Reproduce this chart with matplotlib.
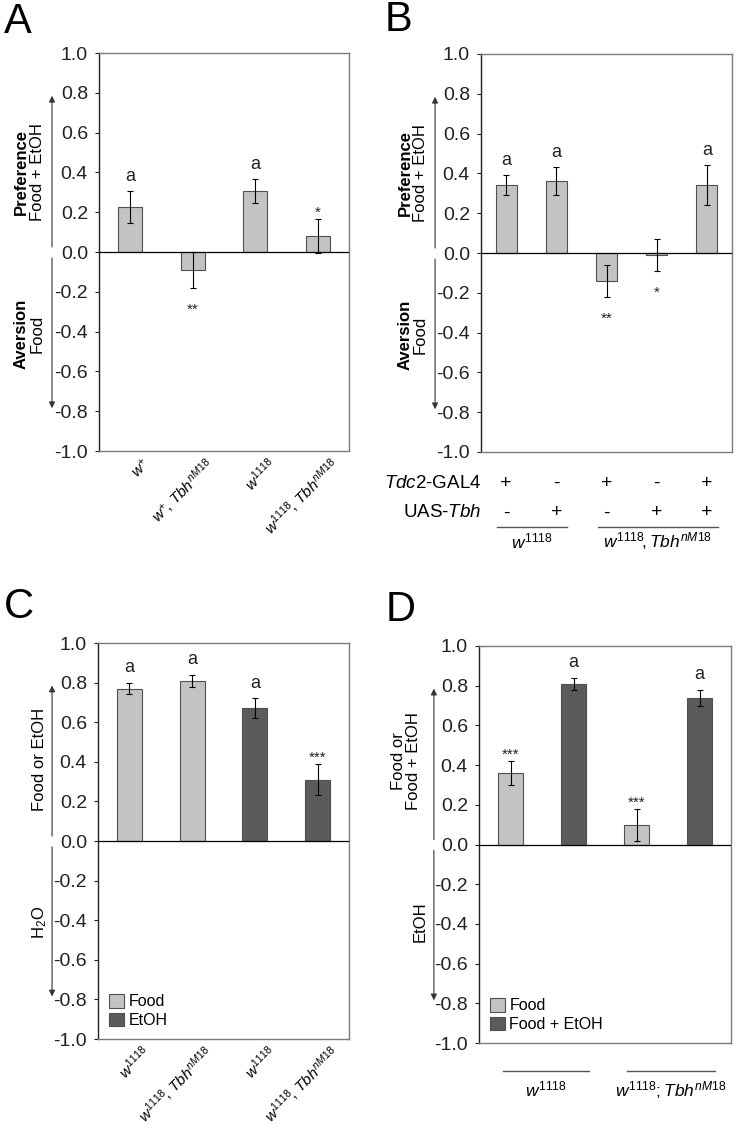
import numpy as np
import matplotlib
matplotlib.use("Agg")
import matplotlib.pyplot as plt
from matplotlib.lines import Line2D
from matplotlib.patches import Patch
from matplotlib.transforms import ScaledTranslation

plt.rcParams["font.family"] = ["Liberation Sans", "DejaVu Sans"]
plt.rcParams["mathtext.fontset"] = "custom"
plt.rcParams["mathtext.rm"] = "Liberation Sans"
plt.rcParams["mathtext.it"] = "Liberation Sans:italic"
plt.rcParams["mathtext.bf"] = "Liberation Sans:bold"
plt.rcParams["axes.unicode_minus"] = False

LIGHT = "#c3c3c3"
DARK = "#5b5b5b"

# ---- data ----
a_labels = [r"$\mathit{w}^{+}$",
            r"$\mathit{w}^{+}\!,\,\mathit{Tbh}^{\mathit{nM18}}$",
            r"$\mathit{w}^{\mathit{1118}}$",
            r"$\mathit{w}^{\mathit{1118}}\!,\,\mathit{Tbh}^{\mathit{nM18}}$"]
a_means = [0.225, -0.09, 0.305, 0.08]
a_err = [0.08, 0.09, 0.06, 0.085]
a_marks = ["a", "**", "a", "*"]

b_means = [0.34, 0.36, -0.14, -0.01, 0.34]
b_err = [0.05, 0.07, 0.08, 0.08, 0.10]
b_marks = ["a", "a", "**", "*", "a"]
b_tdc2 = ["+", "-", "+", "-", "+"]
b_uas = ["-", "+", "-", "+", "+"]
b_groups = [r"$\mathit{w}^{\mathit{1118}}$",
            r"$\mathit{w}^{\mathit{1118}}\!,\mathit{Tbh}^{\mathit{nM18}}$"]

c_labels = [r"$\mathit{w}^{\mathit{1118}}$",
            r"$\mathit{w}^{\mathit{1118}}\!,\,\mathit{Tbh}^{\mathit{nM18}}$",
            r"$\mathit{w}^{\mathit{1118}}$",
            r"$\mathit{w}^{\mathit{1118}}\!,\,\mathit{Tbh}^{\mathit{nM18}}$"]
c_means = [0.77, 0.81, 0.67, 0.31]
c_err = [0.03, 0.03, 0.05, 0.08]
c_marks = ["a", "a", "a", "***"]
c_kind = ["Food", "Food", "EtOH", "EtOH"]

d_means = [0.36, 0.81, 0.10, 0.74]
d_err = [0.06, 0.03, 0.08, 0.04]
d_marks = ["***", "a", "***", "a"]
d_kind = ["Food", "Food + EtOH", "Food", "Food + EtOH"]
d_groups = [r"$\mathit{w}^{\mathit{1118}}$",
            r"$\mathit{w}^{\mathit{1118}}\mathrm{;}\mathit{Tbh}^{\mathit{nM18}}$"]

W, H = 737, 1129
fig = plt.figure(figsize=(W / 100, H / 100), dpi=100)


def px_axes(left, right, top, bottom):
    return fig.add_axes([left / W, 1 - bottom / H, (right - left) / W, (bottom - top) / H])


def bars(ax, means, errs, colors, marks, width):
    x = np.arange(len(means))
    ax.bar(x, means, width, color=colors, edgecolor="#505050", linewidth=0.8, zorder=2)
    ax.errorbar(x, means, yerr=errs, fmt="none", ecolor="black", elinewidth=0.8,
                capsize=2, capthick=0.8, zorder=3)
    ax.axhline(0, color="black", lw=0.9, zorder=4)
    for xi, m, e, t in zip(x, means, errs, marks):
        star = t.startswith("*")
        fs = 11 if star else 13
        if m >= 0:
            y = m + e + (0.06 if star else 0.075)
        else:
            y = m - e - (0.08 if star else 0.075)
        if star:
            y -= 0.03
        ax.text(xi, y, t, ha="center", va="center", fontsize=fs, color="#222")
    ax.set_xlim(-0.5, len(means) - 0.5)
    ax.set_ylim(-1, 1)
    ticks = np.round(np.arange(-1, 1.01, 0.2), 1) + 0.0
    ax.set_yticks(ticks)
    ax.set_yticklabels([f"{t:.1f}" for t in ticks], fontsize=14)
    ax.tick_params(axis="y", direction="out", length=3, width=0.8, pad=5, colors="#222")
    ax.tick_params(axis="x", length=0)
    for s in ax.spines.values():
        s.set_color("#7a7a7a")
        s.set_linewidth(1.0)
    ax.spines["left"].set_color("#222")


def side(ax, xa, upper, lower):
    tr = ax.get_yaxis_transform()
    ap = dict(arrowstyle="-|>", color="#333", lw=0.8, mutation_scale=9,
              shrinkA=0, shrinkB=0)
    ax.annotate("", xy=(xa, 0.785), xytext=(xa, 0.025), xycoords=tr, textcoords=tr,
                arrowprops=ap, annotation_clip=False)
    ax.annotate("", xy=(xa, -0.785), xytext=(xa, -0.03), xycoords=tr, textcoords=tr,
                arrowprops=ap, annotation_clip=False)
    for x, y, txt, wt in upper + lower:
        ax.text(x, y, txt, transform=tr, rotation=90, ha="center", va="center",
                fontsize=12, fontweight=wt, clip_on=False, linespacing=1.0)


def rotated_labels(ax, labels):
    ax.set_xticks(np.arange(len(labels)))
    ax.set_xticklabels(labels, rotation=45, ha="right", rotation_mode="anchor",
                       fontsize=11)
    ax.tick_params(axis="x", pad=3)
    offset = ScaledTranslation(12 / 100, 0, fig.dpi_scale_trans)
    for lab in ax.get_xticklabels():
        lab.set_transform(lab.get_transform() + offset)


def legend(ax, names):
    ax.legend(handles=[Patch(facecolor=LIGHT, edgecolor="#505050", lw=0.8, label=names[0]),
                       Patch(facecolor=DARK, edgecolor="#505050", lw=0.8, label=names[1])],
              loc="lower left", frameon=False, fontsize=11.5, handlelength=0.9,
              handleheight=0.9, handletextpad=0.3, labelspacing=0.2,
              borderaxespad=0.3)


# ---- A ----
axA = px_axes(99, 349, 53, 451)
bars(axA, a_means, a_err, [LIGHT] * 4, a_marks, 0.39)
rotated_labels(axA, a_labels)
side(axA, -0.188,
     [(-0.312, 0.40, "Preference", "bold"), (-0.248, 0.40, "Food + EtOH", "normal")],
     [(-0.312, -0.41, "Aversion", "bold"), (-0.248, -0.41, "Food", "normal")])

# ---- B ----
axB = px_axes(481, 732, 54, 452)
bars(axB, b_means, b_err, [LIGHT] * 5, b_marks, 0.42)
axB.set_xticks([])
side(axB, -0.183,
     [(-0.303, 0.40, "Preference", "bold"), (-0.241, 0.40, "Food + EtOH", "normal")],
     [(-0.303, -0.41, "Aversion", "bold"), (-0.241, -0.41, "Food", "normal")])
xtr = axB.get_xaxis_transform()
axB.text(0, -0.078, r"$\mathit{Tdc2}$-GAL4", transform=axB.transAxes, ha="right",
         va="center", fontsize=13.5)
axB.text(0, -0.153, r"UAS-$\mathit{Tbh}$", transform=axB.transAxes, ha="right",
         va="center", fontsize=13.5)
for i, (p, q) in enumerate(zip(b_tdc2, b_uas)):
    axB.text(i, -0.078, p, transform=xtr, ha="center", va="center", fontsize=14)
    axB.text(i, -0.153, q, transform=xtr, ha="center", va="center", fontsize=14)
for (x0, x1), g in zip([(-0.18, 1.21), (1.83, 4.22)], b_groups):
    axB.add_line(Line2D([x0, x1], [-0.188, -0.188], transform=xtr, color="#555",
                        lw=1.0, clip_on=False))
    axB.text((x0 + x1) / 2, -0.225, g, transform=xtr, ha="center", va="center",
             fontsize=12.5)

# ---- C ----
kind_color = {"Food": LIGHT, "EtOH": DARK, "Food + EtOH": DARK}
axC = px_axes(98, 349, 643, 1039)
bars(axC, c_means, c_err, [kind_color[k] for k in c_kind], c_marks, 0.4)
rotated_labels(axC, c_labels)
side(axC, -0.183,
     [(-0.235, 0.41, "Food or EtOH", "normal")],
     [(-0.231, -0.41, r"H$_2$O", "normal")])
legend(axC, ["Food", "EtOH"])

# ---- D ----
axD = px_axes(479, 731, 646, 1043)
bars(axD, d_means, d_err, [kind_color[k] for k in d_kind], d_marks, 0.4)
axD.set_xticks([])
side(axD, -0.179,
     [(-0.29, 0.42, "Food or\nFood + EtOH", "normal")],
     [(-0.234, -0.39, "EtOH", "normal")])
legend(axD, ["Food", "Food + EtOH"])
xtr = axD.get_xaxis_transform()
for (x0, x1), g in zip([(-0.12, 1.25), (1.85, 3.25)], d_groups):
    axD.add_line(Line2D([x0, x1], [-0.071, -0.071], transform=xtr, color="#555",
                        lw=1.0, clip_on=False))
    axD.text((x0 + x1) / 2, -0.118, g, transform=xtr, ha="center", va="center",
             fontsize=12.5)

# panel letters
for txt, x, y in [("A", 4, 33), ("B", 385, 31), ("C", 4, 618), ("D", 386, 621)]:
    fig.text(x / W, 1 - y / H, txt, fontsize=30, va="baseline", ha="left")

fig.savefig("out.png", dpi=100)
